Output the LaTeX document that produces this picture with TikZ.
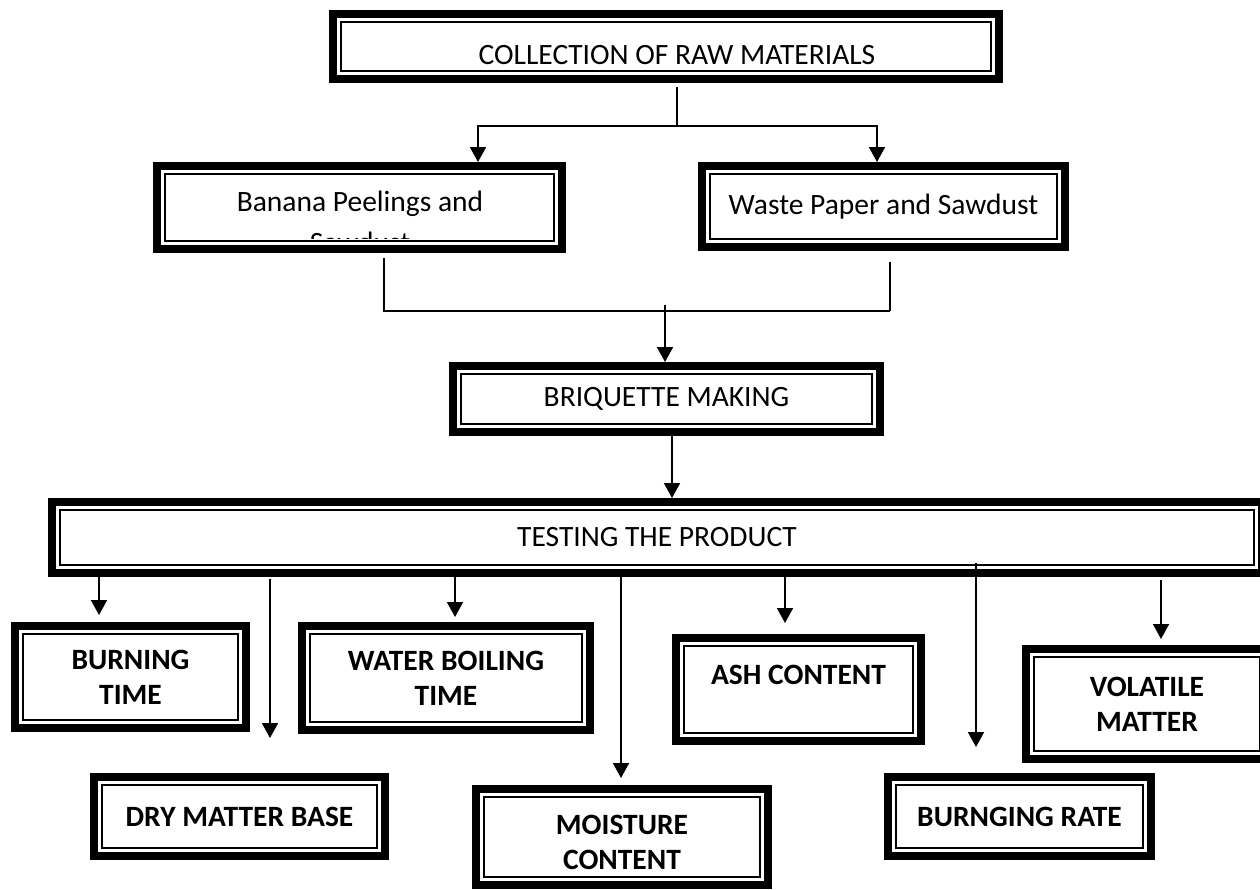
\documentclass[tikz,border=0pt]{standalone}
\usepackage{fontspec}
\setmainfont{Carlito}
\usetikzlibrary{arrows.meta}
\begin{document}
\begin{tikzpicture}[x=1pt,y=-1pt,
  box/.style={draw=black, line width=8pt, fill=white, inner sep=0pt, outer sep=4pt, align=center, font=\fontsize{29.5}{35}\selectfont},
  bbox/.style={box, font=\bfseries\fontsize{29.5}{35}\selectfont},
  inl/.style={line width=1.8pt},
  conn/.style={line width=1.8pt},
  connthin/.style={line width=1.3pt},
  arr/.style={conn, -{Triangle[length=15pt,width=16pt]}},
  lbl/.style={inner sep=0pt, font=\fontsize{29.5}{35}\selectfont}]
\path[fill=white,use as bounding box] (0,0) rectangle (1260,889);

% boxes
\node[box, minimum width=666pt, minimum height=65pt, text height=36pt] (coll) at (666,46.5) {\hspace*{22pt}COLLECTION OF RAW MATERIALS};
\node[box, minimum width=405pt, minimum height=83pt] (banana) at (359.5,207.5) {};
\node[lbl, anchor=base] (bananaA) at (360,211) {Banana Peelings and};
\begin{scope}
  \clip (170,225) rectangle (550,238.5);
  \node[lbl, anchor=base] (bananaB) at (360,252) {Sawdust};
\end{scope}
\node[box, minimum width=363pt, minimum height=81pt] (waste) at (883.5,206.5) {Waste Paper and Sawdust};
\node[box, minimum width=427pt, minimum height=66pt] (briq) at (666.5,399) {BRIQUETTE MAKING};
\node[box, minimum width=1210pt, minimum height=71pt] (test) at (657,537.5) {TESTING THE PRODUCT};
\node[bbox, minimum width=231pt, minimum height=102pt] (burn) at (130.5,677) {BURNING\\TIME};
\node[bbox, minimum width=288pt, minimum height=104pt] (water) at (446,678) {WATER BOILING\\TIME};
\node[bbox, minimum width=291pt, minimum height=79pt] (dry) at (239.5,816.5) {DRY MATTER BASE};
\node[bbox, minimum width=292pt, minimum height=96pt] (moist) at (622,837) {\raisebox{-8pt}[\height][\depth]{\begin{tabular}{@{}c@{}}MOISTURE\\CONTENT\end{tabular}}};
\node[bbox, minimum width=245pt, minimum height=103pt, text depth=29pt] (ash) at (798.5,689.5) {ASH CONTENT};
\node[bbox, minimum width=263pt, minimum height=79pt] (brate) at (1019.5,816.5) {BURNGING RATE};
\node[bbox, minimum width=242pt, minimum height=110pt] (vol) at (1147,704) {VOLATILE\\MATTER};

\foreach \n in {coll,banana,waste,briq,test,burn,water,dry,moist,ash,brate,vol}
  \draw[inl] ([shift={(11.9pt,-11.9pt)}]\n.north west) rectangle ([shift={(-11.9pt,11.9pt)}]\n.south east);

% top split
\coordinate (split) at (677,126);
\coordinate (dropL) at (478,0);
\coordinate (dropR) at (877,0);
\draw[conn] (split |- coll.south) ++(0,4) -- (split);
\draw[arr] (split) -| (dropL |- banana.north);
\draw[arr] (split) -| (dropR |- waste.north);

% merge
\coordinate (mergeL) at (384,311);
\coordinate (mergeR) at (890,311);
\coordinate (mergeA) at (665,305);
\draw[connthin] (mergeL |- banana.south) ++(0,5) -- (mergeL) -- (mergeR);
\draw[connthin] (mergeR |- waste.south) ++(0,11) -- (mergeR);
\draw[arr] (mergeA) -- (mergeA |- briq.north);
\coordinate (bt) at (672,0);
\draw[arr] (bt |- briq.south) -- (bt |- test.north);

% test outputs
\coordinate (t1) at (99,615);
\coordinate (t2) at (270,738);
\coordinate (t3) at (455,617);
\coordinate (t4) at (621,778);
\coordinate (t5) at (785,623);
\coordinate (t6) at (976,747);
\coordinate (t7) at (1161,639);
\draw[arr] (t1 |- test.south) -- (t1);
\draw[arr] (t2 |- test.south) ++(0,2) -- (t2);
\draw[arr] (t3 |- test.south) -- (t3);
\draw[arr] (t4 |- test.south) -- (t4);
\draw[arr] (t5 |- test.south) -- (t5);
\draw[arr] (t6 |- test.south) ++(0,-14) -- (t6);
\draw[arr] (t7 |- test.south) ++(0,3) -- (t7);
\end{tikzpicture}
\end{document}
